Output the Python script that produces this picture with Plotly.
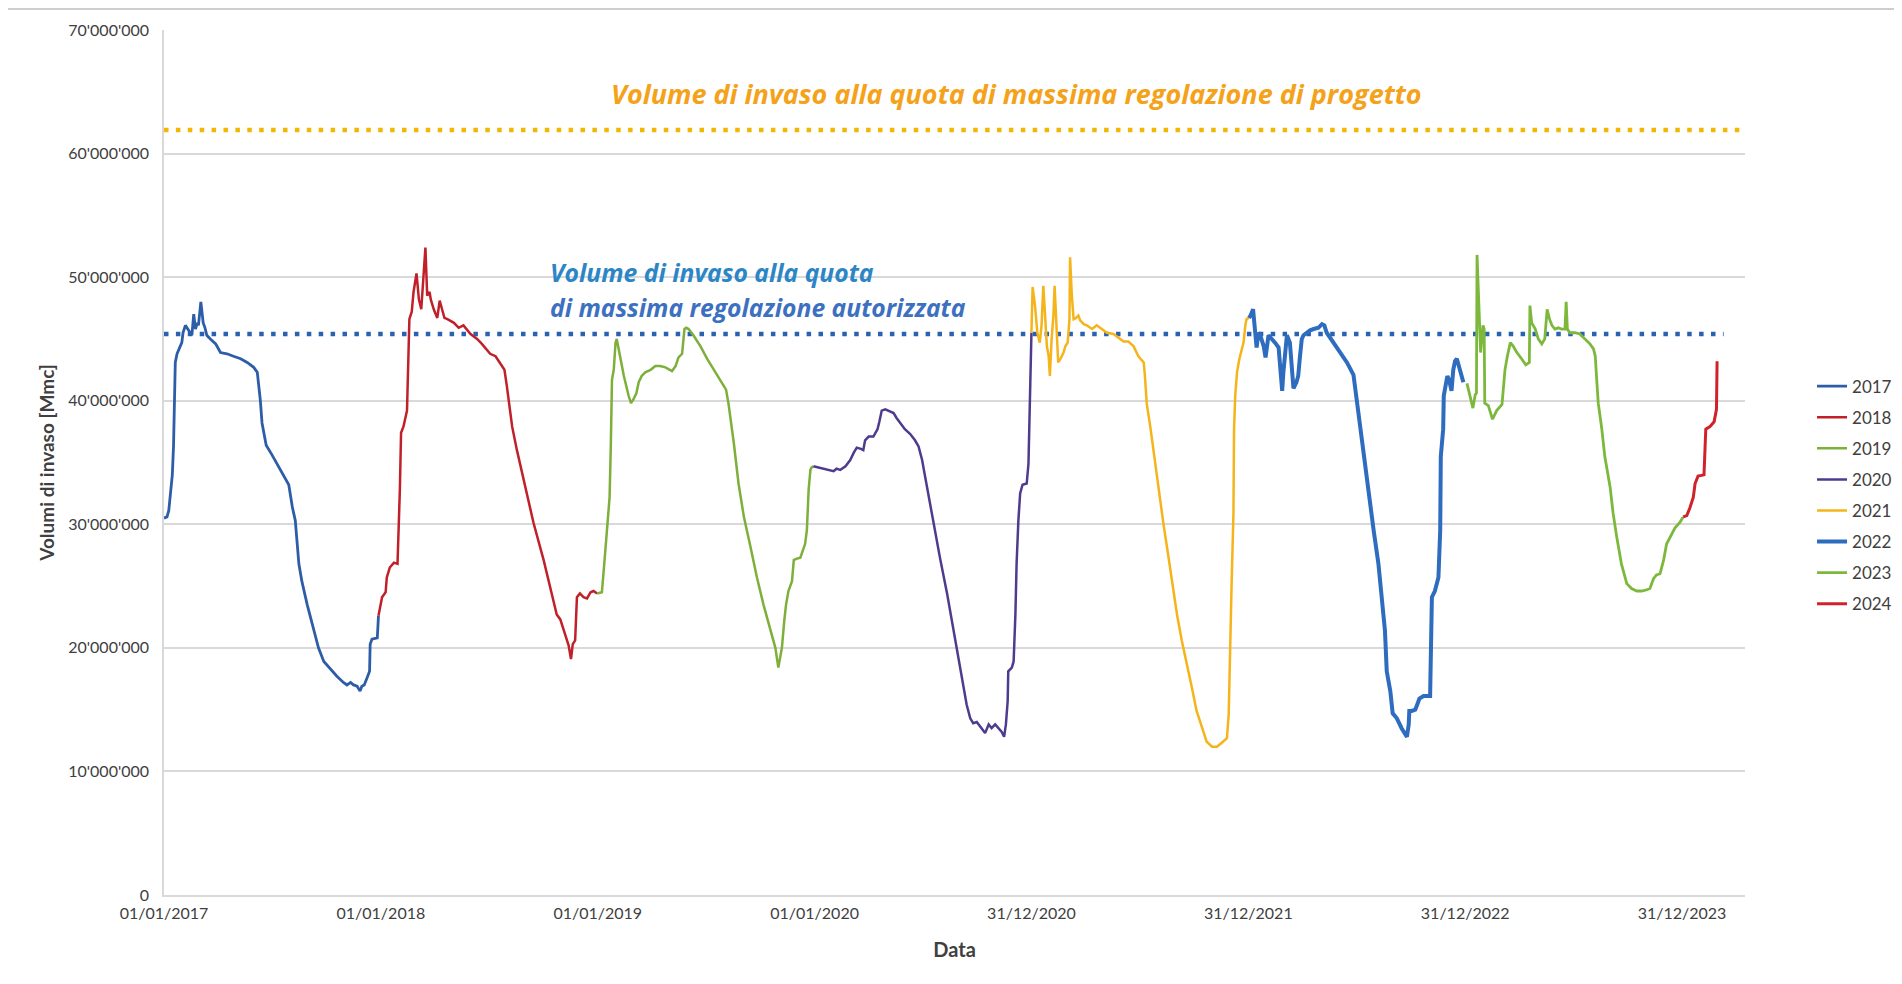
import pandas as pd
import plotly.graph_objects as go

START = pd.Timestamp("2017-01-01")

# days since 01/01/2017 and stored volume (millions of m3), one pair per year
days_2017 = [0, 5, 8, 14, 16, 18, 19, 22, 27, 30, 32, 36, 40, 44, 47, 50, 53, 56, 58, 62,
             66, 69, 72, 78, 87, 95, 106, 117, 129, 140, 151, 157, 162, 165, 172, 182, 196, 210, 216, 221,
             227, 232, 241, 252, 260, 269, 280, 291, 302, 308, 314, 319, 325, 330, 333, 337, 342, 346, 347, 350,
             359, 361]
vol_2017 = [30.5, 30.6, 31.1, 34.0, 36.3, 39.8, 43.1, 43.8, 44.4, 44.7, 45.5, 46.1, 45.8, 45.5, 45.3, 47.0, 45.8, 46.3, 46.1, 48.0,
            46.3, 45.9, 45.3, 45.0, 44.6, 43.9, 43.8, 43.6, 43.4, 43.1, 42.7, 42.3, 40.1, 38.2, 36.4, 35.6, 34.4, 33.2, 31.4, 30.3,
            26.8, 25.4, 23.5, 21.4, 20.0, 18.9, 18.3, 17.7, 17.2, 17.0, 17.2, 17.0, 16.9, 16.5, 16.9, 17.0, 17.6, 18.1, 20.3, 20.7,
            20.8, 22.6]

days_2018 = [361, 367, 373, 375, 380, 387, 393, 395, 397, 399, 403, 409, 412, 413, 417, 420, 425, 429, 433, 436,
             440, 443, 447, 449, 454, 460, 464, 468, 472, 477, 488, 496, 504, 516, 527, 535, 549, 558, 573, 577,
             586, 594, 605, 622, 639, 653, 661, 667, 675, 681, 685, 688, 692, 695, 700, 706, 712, 718, 723, 729]
vol_2018 = [22.6, 24.1, 24.5, 25.7, 26.5, 26.9, 26.8, 29.5, 32.8, 37.4, 37.9, 39.2, 43.6, 46.6, 47.2, 48.8, 50.3, 48.2, 47.4, 49.6,
            52.4, 48.5, 48.8, 48.2, 47.4, 46.7, 48.1, 47.4, 46.7, 46.6, 46.3, 45.9, 46.1, 45.4, 45.0, 44.6, 43.8, 43.6, 42.5, 41.2,
            37.9, 36.0, 33.6, 30.1, 27.1, 24.4, 22.7, 22.3, 21.2, 20.2, 19.1, 20.3, 20.6, 24.1, 24.4, 24.1, 24.0, 24.5, 24.6, 24.4]

days_2019 = [729, 737, 741, 746, 750, 752, 754, 757, 760, 762, 768, 774, 782, 786, 790, 795, 799, 804, 810, 819,
             827, 835, 844, 855, 861, 866, 872, 876, 879, 883, 891, 903, 914, 925, 936, 946, 950, 959, 967, 976,
             987, 998, 1009, 1020, 1029, 1034, 1040, 1044, 1047, 1051, 1057, 1060, 1064, 1071, 1076, 1079, 1082, 1085, 1088, 1090,
             1093]
vol_2019 = [24.4, 24.5, 26.8, 29.5, 32.2, 36.3, 41.7, 42.5, 44.7, 45.0, 43.4, 42.0, 40.4, 39.8, 40.1, 40.6, 41.5, 42.0, 42.3, 42.5,
            42.8, 42.8, 42.7, 42.4, 42.8, 43.5, 43.8, 45.8, 45.9, 45.8, 45.3, 44.4, 43.4, 42.5, 41.7, 40.9, 39.8, 36.6, 33.3, 30.6,
            28.2, 25.7, 23.5, 21.6, 20.0, 18.4, 20.0, 22.2, 23.5, 24.6, 25.4, 27.1, 27.2, 27.3, 27.9, 28.4, 29.5, 32.8, 34.4, 34.6,
            34.7]

days_2020 = [1093, 1102, 1110, 1118, 1127, 1132, 1138, 1147, 1155, 1161, 1166, 1173, 1177, 1180, 1186, 1194, 1201, 1204, 1208, 1214,
             1219, 1228, 1233, 1239, 1247, 1256, 1264, 1270, 1276, 1279, 1287, 1295, 1306, 1318, 1329, 1340, 1351, 1357, 1362, 1368,
             1376, 1382, 1388, 1393, 1399, 1405, 1410, 1414, 1417, 1420, 1421, 1427, 1430, 1433, 1435, 1438, 1441, 1445, 1452, 1455,
             1457, 1458, 1459, 1460]
vol_2020 = [34.7, 34.6, 34.5, 34.4, 34.3, 34.5, 34.4, 34.7, 35.2, 35.8, 36.2, 36.1, 36.0, 36.8, 37.1, 37.1, 37.7, 38.3, 39.2, 39.3,
            39.2, 39.0, 38.6, 38.2, 37.7, 37.3, 36.8, 36.3, 35.2, 34.4, 32.2, 30.1, 27.3, 24.4, 21.4, 18.1, 15.4, 14.3, 13.9, 14.0,
            13.5, 13.1, 13.8, 13.5, 13.8, 13.5, 13.2, 12.8, 13.8, 15.7, 18.1, 18.4, 18.9, 22.7, 26.8, 30.3, 32.5, 33.2, 33.3, 34.9,
            38.7, 42.5, 44.4, 45.5]

days_2021 = [1460, 1462, 1466, 1470, 1474, 1477, 1480, 1483, 1486, 1489, 1491, 1494, 1497, 1499, 1502, 1505, 1509, 1514, 1517, 1521,
             1524, 1525, 1528, 1531, 1535, 1539, 1542, 1548, 1553, 1562, 1570, 1578, 1587, 1598, 1609, 1615, 1623, 1632, 1640, 1649,
             1651, 1654, 1660, 1668, 1676, 1682, 1688, 1696, 1705, 1713, 1722, 1730, 1738, 1747, 1755, 1764, 1772, 1780, 1789, 1792,
             1794, 1797, 1800, 1801, 1803, 1806, 1810, 1814, 1817, 1820, 1822, 1826]
vol_2021 = [45.5, 49.2, 47.7, 45.5, 44.7, 46.1, 49.3, 47.2, 44.4, 43.6, 42.0, 45.0, 46.9, 49.3, 46.3, 43.1, 43.4, 43.9, 44.4, 44.7,
            46.6, 51.6, 48.5, 46.6, 46.7, 46.9, 46.5, 46.2, 46.1, 45.8, 46.1, 45.8, 45.5, 45.4, 45.0, 44.8, 44.8, 44.4, 43.6, 43.1,
            42.0, 39.8, 37.9, 34.9, 32.2, 30.1, 28.2, 25.4, 22.7, 20.6, 18.7, 16.8, 14.9, 13.5, 12.4, 12.0, 12.0, 12.3, 12.7, 14.6,
            20.0, 25.4, 30.9, 37.7, 40.4, 42.3, 43.4, 44.2, 44.7, 46.1, 46.6, 46.7]

days_2022 = [1826, 1829, 1833, 1835, 1839, 1842, 1845, 1851, 1854, 1859, 1865, 1870, 1876, 1879, 1882, 1884, 1887, 1890, 1895, 1898,
             1901, 1906, 1909, 1912, 1915, 1918, 1923, 1929, 1935, 1943, 1949, 1953, 1957, 1968, 1980, 1991, 2002, 2008, 2013, 2022,
             2030, 2036, 2044, 2050, 2055, 2058, 2064, 2068, 2075, 2083, 2092, 2095, 2096, 2100, 2106, 2110, 2113, 2120, 2131, 2134,
             2139, 2145, 2148, 2149, 2153, 2154, 2158, 2160, 2163, 2167, 2170, 2173, 2176, 2180, 2184, 2187]
vol_2022 = [46.7, 46.9, 47.4, 46.3, 44.3, 45.5, 45.3, 44.4, 43.5, 45.3, 45.0, 44.7, 44.3, 42.5, 40.8, 42.3, 43.9, 45.3, 44.7, 43.1,
            41.0, 41.5, 42.0, 43.6, 45.0, 45.3, 45.5, 45.7, 45.8, 45.9, 46.2, 46.1, 45.5, 44.7, 43.9, 43.1, 42.1, 39.8, 37.7, 34.9,
            31.7, 29.5, 26.8, 24.1, 21.4, 18.1, 16.5, 14.7, 14.3, 13.5, 12.8, 13.8, 14.9, 14.9, 15.0, 15.5, 15.9, 16.1, 16.1, 24.1,
            24.6, 25.7, 29.5, 35.5, 37.7, 40.4, 41.5, 42.0, 41.7, 40.8, 42.5, 43.2, 43.4, 42.8, 42.0, 41.5]

days_2023 = [2193, 2198, 2203, 2207, 2209, 2210, 2214, 2216, 2220, 2222, 2223, 2229, 2236, 2243, 2252, 2257, 2261, 2266, 2271, 2277,
             2285, 2292, 2298, 2299, 2302, 2308, 2313, 2319, 2324, 2328, 2332, 2336, 2341, 2347, 2352, 2358, 2360, 2362, 2366, 2375,
             2383, 2392, 2400, 2406, 2409, 2411, 2414, 2420, 2425, 2434, 2439, 2445, 2453, 2462, 2470, 2479, 2487, 2496, 2501, 2507,
             2512, 2518, 2524, 2529, 2535, 2543, 2552, 2557]
vol_2023 = [41.4, 40.4, 39.4, 40.5, 40.6, 51.8, 45.8, 43.9, 46.1, 45.8, 39.8, 39.6, 38.5, 39.2, 39.7, 42.5, 43.6, 44.7, 44.4, 43.9,
            43.4, 42.9, 43.1, 47.7, 46.3, 45.8, 45.0, 44.6, 45.0, 47.4, 46.6, 46.1, 45.8, 45.9, 45.8, 45.8, 48.0, 45.8, 45.5, 45.5,
            45.4, 45.0, 44.6, 44.2, 43.6, 42.0, 39.8, 37.7, 35.5, 33.0, 30.9, 29.0, 26.8, 25.2, 24.8, 24.6, 24.6, 24.7, 24.8, 25.6,
            25.9, 26.0, 27.1, 28.4, 29.0, 29.7, 30.2, 30.6]

days_2024 = [2557, 2563, 2568, 2574, 2577, 2582, 2592, 2595, 2602, 2609, 2613, 2614]
vol_2024 = [30.6, 30.7, 31.3, 32.2, 33.3, 33.9, 34.0, 37.7, 37.9, 38.3, 39.3, 43.2]

years = ["2017", "2018", "2019", "2020", "2021", "2022", "2023", "2024"]
year_days = [days_2017, days_2018, days_2019, days_2020, days_2021, days_2022, days_2023, days_2024]
year_vols = [vol_2017, vol_2018, vol_2019, vol_2020, vol_2021, vol_2022, vol_2023, vol_2024]
year_colors = ["#2E5DA8", "#C0202A", "#7DAF3A", "#4E3B8E", "#F5B41A", "#2D6CBF", "#7CB83C", "#D0222A"]
year_widths = [2.8, 2.5, 2.5, 2.5, 2.5, 4, 2.8, 3]

# reference levels (m3)
vol_autorizzata = 45.4e6
vol_progetto = 61.9e6
autorizzata_span = ["2017-01-01", "2024-03-10"]
progetto_span = ["2017-01-01", "2024-04-14"]

x_range = ["2017-01-01", "2024-04-15"]
xtick_labels = ["01/01/2017", "01/01/2018", "01/01/2019", "01/01/2020",
                "31/12/2020", "31/12/2021", "31/12/2022", "31/12/2023"]
ytick_values = [0, 10e6, 20e6, 30e6, 40e6, 50e6, 60e6, 70e6]
ytick_labels = ["0", "10'000'000", "20'000'000", "30'000'000", "40'000'000",
                "50'000'000", "60'000'000", "70'000'000"]

FONT = "Lato"
NOTE_FONT = "Open Sans"
TXT = "#404040"

fig = go.Figure()

# dotted reference lines
fig.add_trace(go.Scatter(
    x=pd.to_datetime(progetto_span), y=[vol_progetto, vol_progetto],
    mode="lines", line=dict(color="#F2B705", width=4.5, dash="4.5px,7.4px"),
    showlegend=False, hoverinfo="skip",
))
fig.add_trace(go.Scatter(
    x=pd.to_datetime(autorizzata_span), y=[vol_autorizzata, vol_autorizzata],
    mode="lines", line=dict(color="#2A62B2", width=4.5, dash="4.5px,7.4px"),
    showlegend=False, hoverinfo="skip",
))

for name, d, v, c, w in zip(years, year_days, year_vols, year_colors, year_widths):
    fig.add_trace(go.Scatter(
        x=START + pd.to_timedelta(d, unit="D"),
        y=[val * 1e6 for val in v],
        mode="lines",
        name=name,
        legendgroup=name,
        line=dict(color=c, width=w),
    ))

fig.add_annotation(
    text="Volume di invaso alla quota di massima regolazione di progetto",
    xref="paper", yref="paper", x=0.5395, y=0.9264, xanchor="center", yanchor="middle",
    showarrow=False, font=dict(family=NOTE_FONT, size=27, color="#F5A21B", weight="bold", style="italic"),
)
fig.add_annotation(
    text="Volume di invaso alla quota",
    xref="paper", yref="paper", x=0.2429, y=0.7192, xanchor="left", yanchor="middle",
    showarrow=False, font=dict(family=NOTE_FONT, size=24.7, color="#2C86C6", weight="bold", style="italic"),
)
fig.add_annotation(
    text="di massima regolazione autorizzata",
    xref="paper", yref="paper", x=0.2429, y=0.6789, xanchor="left", yanchor="middle",
    showarrow=False, font=dict(family=NOTE_FONT, size=24.7, color="#3C70C0", weight="bold", style="italic"),
)

# chart area frame
fig.add_shape(type="rect", xref="paper", yref="paper",
              x0=-0.0999, x1=1.0961, y0=-0.121, y1=1.0242,
              line=dict(color="#BFBFBF", width=1.5), fillcolor="rgba(0,0,0,0)", layer="below")

fig.update_xaxes(
    range=pd.to_datetime(x_range),
    tickvals=pd.to_datetime(xtick_labels, format="%d/%m/%Y"),
    ticktext=xtick_labels,
    showgrid=False, showline=True, linecolor="#D9D9D9", linewidth=1.5,
    ticks="outside", ticklen=3, tickcolor="rgba(0,0,0,0)",
    tickfont=dict(family=FONT, size=16, color=TXT),
    title=dict(text="Data", standoff=22, font=dict(family=FONT, size=20, color=TXT, weight="bold")),
)
fig.update_yaxes(
    range=[0, 70e6],
    tickvals=ytick_values, ticktext=ytick_labels,
    showgrid=True, gridcolor="#D9D9D9", gridwidth=1.5,
    showline=True, linecolor="#D9D9D9", linewidth=1.5, zeroline=False,
    ticks="outside", ticklen=10, tickcolor="rgba(0,0,0,0)",
    tickfont=dict(family=FONT, size=16, color=TXT),
    title=dict(text="Volumi di invaso [Mmc]", standoff=9,
               font=dict(family=FONT, size=19, color=TXT, weight="bold")),
)

# the page body adds an 8px offset, so margins are shifted accordingly
fig.update_layout(
    width=1902, height=984,
    margin=dict(l=156, r=165, t=18, b=97),
    paper_bgcolor="white", plot_bgcolor="white",
    legend=dict(x=1.0424, y=0.6086, xanchor="left", yanchor="top",
                tracegroupgap=6, font=dict(family=FONT, size=17, color=TXT),
                bgcolor="rgba(0,0,0,0)"),
    showlegend=True,
)

fig.write_html("out.html")
